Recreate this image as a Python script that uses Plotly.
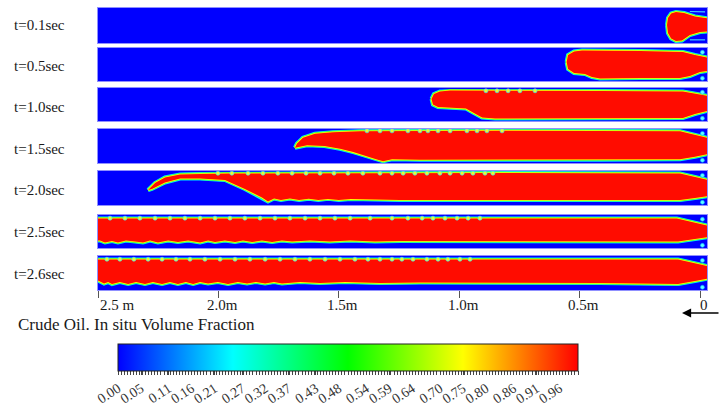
import numpy as np
import plotly.graph_objects as go

W, H = 720, 408
FONT = "Liberation Serif"

# ---------------- data ----------------
TIMES = ["t=0.1sec", "t=0.5sec", "t=1.0sec", "t=1.5sec", "t=2.0sec", "t=2.5sec", "t=2.6sec"]

# Oil interface outlines: (distance from inlet in m, normalised pipe height 0=bottom 1=top)
T01_TOP = [(0.137, 0.514), (0.133, 0.714), (0.120, 0.843), (0.100, 0.886), (0.066, 0.857),
           (0.021, 0.757), (-0.06, 0.671)]
T01_BOT = [(0.137, 0.514), (0.133, 0.286), (0.120, 0.129), (0.100, 0.057), (0.075, 0.071),
           (0.042, 0.229), (0.000, 0.314), (-0.06, 0.343)]

T05_TOP = [(0.554, 0.576), (0.548, 0.788), (0.523, 0.894), (0.490, 0.924), (0.415, 0.924),
           (0.249, 0.909), (0.071, 0.879), (0.021, 0.788), (-0.06, 0.667)]
T05_BOT = [(0.554, 0.576), (0.548, 0.364), (0.523, 0.242), (0.478, 0.212), (0.449, 0.121),
           (0.415, 0.076), (0.249, 0.091), (0.083, 0.091), (0.042, 0.152), (0.000, 0.273),
           (-0.06, 0.333)]

T10_TOP = [(1.115, 0.667), (1.105, 0.818), (1.080, 0.894), (1.038, 0.924), (0.831, 0.909),
           (0.415, 0.909), (0.071, 0.894), (0.021, 0.818), (-0.06, 0.727)]
T10_BOT = [(1.115, 0.667), (1.109, 0.500), (1.088, 0.424), (1.017, 0.409), (0.972, 0.379),
           (0.939, 0.242), (0.905, 0.106), (0.851, 0.076), (0.415, 0.076), (0.071, 0.091),
           (0.021, 0.212), (-0.06, 0.364)]

T15_TOP = [(1.682, 0.450), (1.674, 0.568), (1.649, 0.744), (1.599, 0.862), (1.524, 0.906),
           (1.412, 0.935), (1.246, 0.950), (0.831, 0.950), (0.083, 0.935), (0.021, 0.832),
           (-0.06, 0.685)]
T15_BOT = [(1.682, 0.450), (1.661, 0.480), (1.632, 0.520), (1.560, 0.500), (1.495, 0.421),
           (1.440, 0.320), (1.390, 0.200), (1.345, 0.110), (1.316, 0.053), (1.279, 0.112),
           (1.163, 0.097), (0.415, 0.097), (0.083, 0.112), (0.021, 0.185), (-0.06, 0.303)]

T20_TOP = [(2.292, 0.441), (2.263, 0.647), (2.222, 0.809), (2.159, 0.897), (2.076, 0.912),
           (1.952, 0.926), (1.661, 0.941), (0.831, 0.941), (0.083, 0.926), (0.021, 0.824),
           (-0.06, 0.691)]
T20_BOT = [(2.292, 0.441), (2.276, 0.471), (2.222, 0.662), (2.159, 0.779), (2.076, 0.779),
           (1.973, 0.735), (1.890, 0.471), (1.819, 0.221), (1.794, 0.103), (1.769, 0.190),
           (1.740, 0.150), (1.703, 0.190), (1.665, 0.150), (1.625, 0.185), (1.585, 0.150),
           (1.545, 0.180), (1.500, 0.150), (1.450, 0.175), (1.246, 0.150), (0.415, 0.147),
           (0.083, 0.147), (0.021, 0.206), (-0.06, 0.294)]

T25_TOP = [(2.6, 0.894), (0.096, 0.894), (0.021, 0.773), (-0.06, 0.630)]
T25_BOT = [(2.6, 0.242), (2.492, 0.227), (2.471, 0.167), (2.442, 0.212), (2.417, 0.167),
           (2.384, 0.227), (2.346, 0.197), (2.313, 0.167), (2.284, 0.227), (2.251, 0.167),
           (2.209, 0.227), (2.168, 0.182), (2.126, 0.227), (2.076, 0.167), (2.043, 0.227),
           (2.014, 0.182), (1.973, 0.227), (1.931, 0.182), (1.898, 0.227), (1.860, 0.182),
           (1.819, 0.227), (1.777, 0.182), (1.736, 0.227), (1.694, 0.197), (1.620, 0.227),
           (1.537, 0.197), (1.453, 0.227), (1.350, 0.197), (1.246, 0.212), (0.415, 0.197),
           (0.091, 0.197), (0.021, 0.273), (-0.06, 0.364)]

T26_TOP = [(2.6, 0.897), (0.091, 0.897), (0.021, 0.785), (-0.06, 0.656)]
T26_BOT = [(2.6, 0.294), (2.500, 0.279), (2.475, 0.191), (2.458, 0.235), (2.442, 0.176),
           (2.409, 0.235), (2.375, 0.176), (2.342, 0.235), (2.305, 0.176), (2.272, 0.235),
           (2.234, 0.176), (2.201, 0.235), (2.168, 0.176), (2.135, 0.235), (2.105, 0.176),
           (2.076, 0.235), (2.043, 0.191), (2.002, 0.235), (1.960, 0.176), (1.919, 0.235),
           (1.881, 0.191), (1.844, 0.235), (1.806, 0.191), (1.769, 0.235), (1.736, 0.191),
           (1.661, 0.235), (1.578, 0.206), (1.474, 0.235), (1.329, 0.206), (1.163, 0.221),
           (0.415, 0.206), (0.091, 0.176), (0.021, 0.265), (-0.06, 0.368)]

# Small droplets along the upper wall (m)
T10_DROPS_X = [0.889, 0.843, 0.797, 0.748, 0.685]
T15_DROPS_X = [1.383, 1.329, 1.279, 1.213, 1.163, 1.130, 1.088, 1.038, 0.968, 0.926, 0.885, 0.822]
T20_DROPS_X = [2.002, 1.944, 1.877, 1.815, 1.753, 1.694, 1.636, 1.578, 1.520, 1.462, 1.400,
               1.329, 1.279, 1.233, 1.184, 1.134, 1.080, 1.038, 0.988, 0.943, 0.893, 0.860]
T25_DROPS_X = [2.450, 2.388, 2.326, 2.263, 2.201, 2.139, 2.076, 2.014, 1.952, 1.890, 1.827,
               1.765, 1.703, 1.640, 1.578, 1.516, 1.453, 1.370, 1.279, 1.213, 1.154, 1.109,
               1.059, 1.009, 0.963, 0.914]
T26_DROPS_X = [2.463, 2.409, 2.351, 2.292, 2.234, 2.176, 2.118, 2.056, 1.993, 1.931, 1.869,
               1.806, 1.744, 1.682, 1.620, 1.557, 1.495, 1.433, 1.379, 1.329, 1.279, 1.238,
               1.192, 1.134, 1.088, 1.047, 0.997, 0.955]
DROPS_Y = [None, None, 0.915, 0.945, 0.935, 0.905, 0.905]

# Outlet-corner eddies (m, height)
CORNER_X = [-0.01, -0.01]
CORNER_Y = [0.87, 0.08]

XTICK_VALS = [2.5, 2.0, 1.5, 1.0, 0.5, 0.0]
XTICK_TEXT = ["2.5 m", "2.0m", "1.5m", "1.0m", "0.5m", "0"]

CBAR_LABELS = ["0.00", "0.05", "0.11", "0.16", "0.21", "0.27", "0.32", "0.37", "0.43", "0.48",
               "0.54", "0.59", "0.64", "0.70", "0.75", "0.80", "0.86", "0.91", "0.96"]

# ---------------- style / layout ----------------
BLUE = "#0000ff"
RED = "#ff0c00"
SCALE = [[0.0, "#0000ff"], [0.25, "#00ffff"], [0.5, "#00ff00"], [0.75, "#ffff00"], [1.0, "#ff0000"]]
ROW_PX = [(8, 43), (48, 81), (88, 121), (129, 163), (171, 205), (215, 248), (256, 290)]
LABEL_PX = [25, 66, 107, 149, 190, 232, 274]
X0, X1 = 98, 707
XRANGE = [2.5, -0.029]

PANELS = [(T01_TOP, T01_BOT), (T05_TOP, T05_BOT), (T10_TOP, T10_BOT), (T15_TOP, T15_BOT),
          (T20_TOP, T20_BOT), (T25_TOP, T25_BOT), (T26_TOP, T26_BOT)]
DROPS = [None, None, T10_DROPS_X, T15_DROPS_X, T20_DROPS_X, T25_DROPS_X, T26_DROPS_X]

fig = go.Figure()
layout_axes = {}

for i, (top, bot) in enumerate(PANELS):
    n = i + 1
    xa = "x" if n == 1 else f"x{n}"
    ya = "y" if n == 1 else f"y{n}"
    pts = bot + top[::-1] + [bot[0]]
    px_ = [p[0] for p in pts]
    py_ = [p[1] for p in pts]
    # interface smearing: cyan -> green -> yellow bands, then the red oil core
    for col, w in (("#00f0ff", 4.0), ("#40ff40", 2.8), ("#ffff00", 1.6)):
        fig.add_trace(go.Scatter(x=px_, y=py_, mode="lines", line=dict(color=col, width=w),
                                 xaxis=xa, yaxis=ya, hoverinfo="skip", showlegend=False))
    fig.add_trace(go.Scatter(x=px_, y=py_, mode="lines", fill="toself", fillcolor=RED,
                             line=dict(width=0, color=RED),
                             xaxis=xa, yaxis=ya, hoverinfo="skip", showlegend=False))
    if DROPS[i] is not None:
        fig.add_trace(go.Scatter(x=DROPS[i], y=[DROPS_Y[i]] * len(DROPS[i]), mode="markers",
                                 marker=dict(size=4, color="#e8ff30",
                                             line=dict(color="#40e0ff", width=0.7)),
                                 xaxis=xa, yaxis=ya, hoverinfo="skip", showlegend=False))
    if n >= 2:
        fig.add_trace(go.Scatter(x=CORNER_X, y=CORNER_Y, mode="markers",
                                 marker=dict(size=4, color="#60ffff",
                                             line=dict(color="#00b0ff", width=0.6)),
                                 xaxis=xa, yaxis=ya, hoverinfo="skip", showlegend=False))

    t, b = ROW_PX[i]
    key_x = "xaxis" if n == 1 else f"xaxis{n}"
    key_y = "yaxis" if n == 1 else f"yaxis{n}"
    xax = dict(domain=[X0 / W, X1 / W], range=XRANGE, anchor=ya, showgrid=False,
               zeroline=False, showticklabels=False, ticks="", showline=True, mirror=True,
               linecolor="#9090ff", linewidth=1, fixedrange=True)
    if n == 7:
        xax.update(ticks="outside", tickmode="array", tickvals=XTICK_VALS, ticklen=7,
                   tickcolor="#555555", tickwidth=1)
    layout_axes[key_x] = xax
    layout_axes[key_y] = dict(domain=[1 - b / H, 1 - t / H], range=[0, 1], anchor=xa,
                              showgrid=False, zeroline=False, showticklabels=False,
                              showline=True, mirror=True, linecolor="#9090ff", linewidth=1,
                              fixedrange=True)

# Panel 1 wake streaks near the outlet wall
fig.add_trace(go.Scatter(x=[0.042, -0.021, None, 0.042, -0.021], y=[0.90, 0.89, None, 0.09, 0.09],
                         mode="lines", line=dict(color="#40d0ff", width=1.2),
                         xaxis="x", yaxis="y", hoverinfo="skip", showlegend=False))

# colour scale legend (labelled ticks plus dense minor ticks)
major_vals = [float(s) for s in CBAR_LABELS]
minor = [v for v in np.linspace(0, 1, 151) if min(abs(v - m) for m in major_vals) > 1e-3]
cb_vals = major_vals + minor
cb_text = CBAR_LABELS + [""] * len(minor)
fig.add_trace(go.Scatter(
    x=[1.0], y=[-5], mode="markers", xaxis="x7", yaxis="y7", hoverinfo="skip", showlegend=False,
    marker=dict(size=1, color=[0.5], cmin=0, cmax=1, colorscale=SCALE, showscale=True,
                colorbar=dict(orientation="h", x=348 / W, xanchor="center", y=1 - 344 / H,
                              yanchor="top", len=460 / W, lenmode="fraction", thickness=27,
                              thicknessmode="pixels", xpad=0, ypad=0, outlinewidth=1,
                              outlinecolor="#222222", tickmode="array", tickvals=cb_vals,
                              ticktext=cb_text, ticks="outside", ticklen=4, tickwidth=1,
                              tickcolor="#444444", tickangle=-33,
                              tickfont=dict(family=FONT, size=14, color="#333333")))))

annotations = []
for lab, yc in zip(TIMES, LABEL_PX):
    annotations.append(dict(text=lab, x=12 / W, y=1 - yc / H, xref="paper", yref="paper",
                            xanchor="left", yanchor="middle", showarrow=False,
                            font=dict(family=FONT, size=15, color="#1a1a1a")))
for j, (v, txt) in enumerate(zip(XTICK_VALS, XTICK_TEXT)):
    annotations.append(dict(text=txt, x=v, y=1 - 305 / H, xref="x7", yref="paper",
                            xanchor="left" if j == 0 else "center", yanchor="middle",
                            xshift=0 if j == 0 else 4, showarrow=False,
                            font=dict(family=FONT, size=15, color="#1a1a1a")))
annotations.append(dict(text="Crude Oil. In situ Volume Fraction", x=16 / W, y=1 - 324 / H,
                        xref="paper", yref="paper", xanchor="left", yanchor="middle",
                        showarrow=False, font=dict(family=FONT, size=17, color="#1a1a1a")))
annotations.append(dict(text="", x=682 / W, y=1 - 313 / H, xref="paper", yref="paper",
                        showarrow=True, ax=40, ay=0, axref="pixel", ayref="pixel",
                        arrowhead=2, arrowsize=1.3, arrowwidth=1.4, arrowcolor="#000000",
                        standoff=0))

fig.update_layout(width=W, height=H, margin=dict(l=0, r=0, t=0, b=0),
                  paper_bgcolor="white", plot_bgcolor=BLUE, showlegend=False,
                  annotations=annotations, **layout_axes)

fig.write_html("out.html", config={"displayModeBar": False},
               post_script="document.body.style.margin='0';")
